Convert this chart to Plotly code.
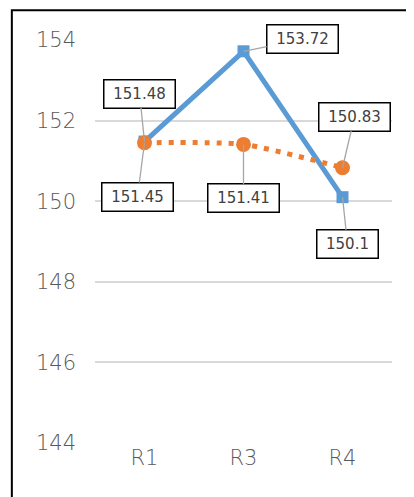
import plotly.graph_objects as go

# データ
categories = ["R1", "R3", "R4"]
series_a = [151.48, 153.72, 150.1]
series_b = [151.45, 151.41, 150.83]
tick_vals = [144, 146, 148, 150, 152, 154]

# ラベル位置 (点からのピクセルオフセット)
offsets_a = [(-5, -48), (59, -12), (5, 47)]
offsets_b = [(-7, 54), (0, 54), (12, -51)]
widths_a = [66, 66, 56]
widths_b = [66, 66, 66]

fig = go.Figure()

# 青い折れ線
fig.add_trace(go.Scatter(
    x=categories, y=series_a, mode="lines+markers",
    line=dict(color="#5B9BD5", width=5),
    marker=dict(symbol="square", size=12, color="#5B9BD5"),
    showlegend=False,
))

# オレンジの点線（平滑化）
fig.add_trace(go.Scatter(
    x=categories, y=series_b, mode="lines+markers",
    line=dict(color="#ED7D31", width=5, dash="5px,7px", shape="spline", smoothing=0.6),
    marker=dict(symbol="circle", size=15, color="#ED7D31"),
    showlegend=False,
))

# データラベル
def add_labels(values, offsets, widths):
    for c, v, (dx, dy), w in zip(categories, values, offsets, widths):
        fig.add_annotation(
            x=c, y=v, text=f"{v:g}", ax=dx, ay=dy,
            showarrow=True, arrowhead=0, arrowwidth=1.3, arrowcolor="#A6A6A6",
            font=dict(size=15, color="#404040", family="DejaVu Sans"),
            bgcolor="white", bordercolor="black", borderwidth=1.5,
            borderpad=2, width=w, height=23,
        )

add_labels(series_a, offsets_a, widths_a)
add_labels(series_b, offsets_b, widths_b)

# 枠線（左・上のみ見える）
fig.add_shape(type="rect", xref="paper", yref="paper",
              x0=-0.28, x1=1.3, y0=-0.3, y1=1.074,
              line=dict(color="black", width=2))

tick_font = dict(size=21, color="#595959", family="DejaVu Sans", weight=200)

fig.update_layout(
    width=406, height=489,
    margin=dict(l=87, r=22, t=32, b=54),
    paper_bgcolor="white", plot_bgcolor="white",
    font=dict(family="DejaVu Sans", color="#595959"),
    xaxis=dict(
        type="category", range=[-0.5, 2.5],
        showgrid=False, showline=False, ticks="",
        tickfont=tick_font,
    ),
    yaxis=dict(
        range=[144, 154], tickvals=tick_vals,
        showgrid=True, gridcolor="#D9D9D9", gridwidth=1.5,
        zeroline=False, showline=False, ticks="",
        ticklabelstandoff=18,
        tickfont=tick_font,
    ),
)

fig.write_html("out.html")
